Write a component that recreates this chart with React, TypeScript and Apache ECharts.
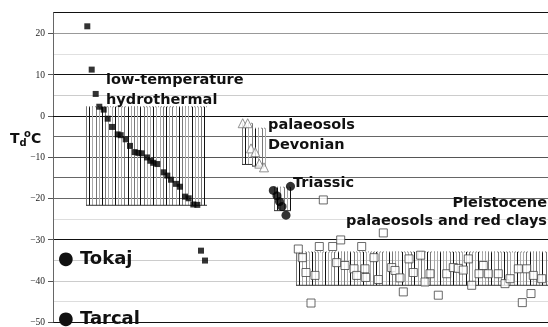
import React, { useEffect, useRef } from "react";
import * as echarts from "echarts";

// Low-temperature hydrothermal (black squares)
const hydroX = [6.86, 7.74, 8.54, 9.26, 10.14, 10.94, 11.8, 12.94, 13.54, 14.54, 15.4, 16.34, 17.06, 17.74, 18.8, 19.46, 20.06, 20.86, 22.14, 22.86, 23.6, 24.6, 25.4, 26.4, 27.14, 28.06, 28.86];
const hydroY = [21.7, 11.2, 5.3, 2.2, 1.5, -0.7, -2.7, -4.5, -4.7, -5.7, -7.3, -8.8, -9.0, -9.1, -10.1, -10.9, -11.4, -11.7, -13.7, -14.5, -15.5, -16.5, -17.2, -19.6, -20.0, -21.5, -21.6];
// Tokaj (black squares)
const tokajX = [29.6, 30.4];
const tokajY = [-32.7, -35.1];
// Devonian palaeosols (open triangles)
const devonianX = [37.94, 38.94, 39.6, 40.46, 41.26, 42.2];
const devonianY = [-1.8, -1.8, -7.9, -8.8, -11.6, -12.5];
// Triassic (black circles)
const triassicX = [44.06, 44.8, 45.3, 45.8, 46.6, 47.5];
const triassicY = [-18.1, -19.4, -20.8, -22.0, -24.1, -17.1];
// Pleistocene palaeosols and red clays (open squares)
const pleistX = [54.06, 49.06, 49.86, 50.6, 51.6, 52.4, 53.26, 55.94, 56.74, 57.54, 58.4, 60.2, 60.74, 61.74, 62.4, 62.54, 64.2, 65.06, 66.06, 67.74, 68.4, 69.4, 70.06, 71.2, 72.06, 73.54, 74.4, 75.4, 77.06, 78.74, 80.06, 81.06, 82.06, 83.06, 83.74, 85.2, 86.06, 87.06, 89.06, 90.4, 91.4, 93.06, 93.86, 94.74, 95.6, 96.06, 97.74];
const pleistY = [-20.4, -32.3, -34.4, -38.0, -45.4, -38.7, -31.7, -31.7, -35.6, -30.1, -36.3, -37.1, -38.7, -31.7, -37.1, -39.2, -34.4, -39.7, -28.4, -36.8, -37.5, -39.3, -42.7, -34.7, -38.0, -33.8, -40.3, -38.3, -43.5, -38.3, -36.8, -37.0, -37.4, -34.7, -41.1, -38.3, -36.3, -38.3, -38.3, -40.7, -39.5, -37.1, -45.3, -37.1, -43.1, -38.7, -39.5];
// Hatched ranges
const rangeX0 = [6.6, 37.8, 39.8, 44.2, 48.6];
const rangeX1 = [30.8, 39.8, 42.6, 47.6, 99];
const rangeTop = [2.2, -1.8, -3.0, -17.3, -33.0];
const rangeBottom = [-21.7, -11.8, -12.2, -23.0, -41.1];
// Axis
const yMin = -50;
const yMax = 25;
const yTickLabels = [-50, -40, -30, -20, -10, 0, 10, 20];
const gridColors = ["#111", "#ddd", "#ccc", "#ccc", "#111", "#ddd", "#666", "#666", "#555", "#666", "#999", "#ccc", "#111", "#e0e0e0", "#999", "#111"];

const zip = (xs: number[], ys: number[]) => xs.map((x, i) => [x, ys[i]]);

export default function App() {
  const ref = useRef<HTMLDivElement>(null);
  useEffect(() => {
    const chart = echarts.init(ref.current!, null, { renderer: "svg" });
    const bold = (size: number) => ({ fontFamily: "DejaVu Sans", fontWeight: "bold" as const, fontSize: size, fill: "#111" });
    const txt = (text: string, x: number, y: number, size: number, align = "left") => ({
      type: "text", x, y, z: 100,
      style: { text, ...bold(size), align, verticalAlign: "middle" },
    });
    chart.setOption({
      animation: false,
      grid: { left: 53, right: 0, top: 12.7, bottom: 2 },
      xAxis: {
        type: "value", min: 0, max: 99,
        axisLabel: { show: false }, axisTick: { show: false }, splitLine: { show: false },
        axisLine: { show: true, lineStyle: { color: "#111", width: 1.2 } },
      },
      yAxis: [
        {
          type: "value", min: yMin, max: yMax, interval: 5,
          axisLine: { show: true, lineStyle: { color: "#666", width: 1 } },
          splitLine: { show: true, lineStyle: { color: gridColors, width: 1 } },
          axisTick: { show: false },
          axisLabel: { show: false },
        },
        {
          type: "value", min: yMin, max: yMax, position: "left",
          axisLine: { show: false },
          splitLine: { show: false },
          axisTick: { show: true, length: 5, customValues: yTickLabels, lineStyle: { color: "#555" } },
          axisLabel: {
            margin: 8, fontFamily: "Liberation Serif", fontSize: 9.5, color: "#222",
            customValues: yTickLabels,
            formatter: (v: number) => String(v).replace("-", "\u2212"),
          },
        },
      ],
      series: [
        {
          type: "custom", z: 1, clip: true,
          data: rangeX0.map((x0, i) => [x0, rangeX1[i], rangeTop[i], rangeBottom[i]]),
          renderItem: (params: any, api: any) => {
            const p0 = api.coord([api.value(0), api.value(2)]);
            const p1 = api.coord([api.value(1), api.value(3)]);
            const children: any[] = [];
            const step = 3.2;
            let i = 0;
            for (let x = p0[0]; x <= p1[0] + 0.01; x += step, i++) {
              const xx = Math.round(x) + 0.5;
              const c = i % 4 === 1 ? "#111" : i % 3 === 0 ? "#777" : "#aaa";
              children.push({ type: "line", shape: { x1: xx, y1: p0[1], x2: xx, y2: p1[1] }, style: { stroke: c, lineWidth: 1 } });
            }
            children.push({ type: "line", shape: { x1: p0[0], y1: p0[1], x2: p1[0], y2: p0[1] }, style: { stroke: "#888", lineWidth: 1, lineDash: [1, 2] } });
            children.push({ type: "line", shape: { x1: p0[0], y1: p1[1], x2: p1[0], y2: p1[1] }, style: { stroke: "#333", lineWidth: 1 } });
            return { type: "group", children };
          },
        },
        { type: "scatter", z: 5, symbol: "rect", symbolSize: 6, itemStyle: { color: "#000" }, data: zip(hydroX, hydroY) },
        { type: "scatter", z: 5, symbol: "rect", symbolSize: 6, itemStyle: { color: "#000" }, data: zip(tokajX, tokajY) },
        { type: "scatter", z: 5, symbol: "triangle", symbolSize: 9, itemStyle: { color: "#fff", borderColor: "#777", borderWidth: 1 }, data: zip(devonianX, devonianY) },
        { type: "scatter", z: 5, symbol: "circle", symbolSize: 9, itemStyle: { color: "#000" }, data: zip(triassicX, triassicY) },
        { type: "scatter", z: 5, symbol: "rect", symbolSize: 8, itemStyle: { color: "#fff", borderColor: "#444", borderWidth: 1 }, data: zip(pleistX, pleistY) },
      ],
      graphic: [
        txt("low-temperature", 106, 79, 14.5),
        txt("hydrothermal", 106, 99, 14.5),
        txt("palaeosols", 268, 124, 14.5),
        txt("Devonian", 268, 143.5, 14.5),
        txt("Triassic", 293, 182, 14.5),
        txt("Pleistocene", 547, 201.5, 14.5, "right"),
        txt("palaeosols and red clays", 547, 220, 14.5, "right"),
        txt("\u25CF Tokaj", 58, 257, 18),
        txt("\u25CF Tarcal", 58, 317, 18),
        txt("T", 10, 137.5, 14),
        txt("d", 19.5, 142, 10),
        txt("o", 24, 133, 10),
        txt("C", 31, 137.5, 14),
      ],
    });
    return () => chart.dispose();
  }, []);
  return <div ref={ref} style={{ position: "fixed", left: 0, top: 0, width: 548, height: 327 }} />;
}
